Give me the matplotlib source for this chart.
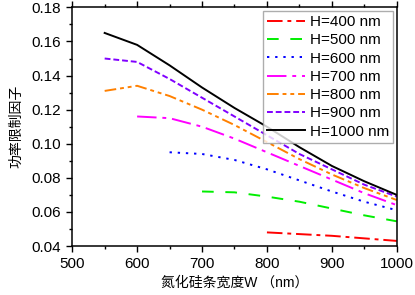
import numpy as np
import matplotlib
matplotlib.use('Agg')
import matplotlib.pyplot as plt
from matplotlib.ticker import MultipleLocator

# Width of the SiN strip (nm) and power confinement factor for each height H
w_400 = [800, 850, 900, 950, 1000]
pcf_400 = [0.048, 0.047, 0.046, 0.0445, 0.043]

w_500 = [700, 750, 800, 850, 900, 950, 1000]
pcf_500 = [0.072, 0.0715, 0.069, 0.066, 0.062, 0.058, 0.0545]

w_600 = [650, 700, 750, 800, 850, 900, 950, 1000]
pcf_600 = [0.095, 0.094, 0.0905, 0.085, 0.0785, 0.072, 0.066, 0.061]

w_700 = [600, 650, 700, 750, 800, 850, 900, 950, 1000]
pcf_700 = [0.116, 0.115, 0.110, 0.103, 0.095, 0.087, 0.079, 0.071, 0.064]

w_800 = [550, 600, 650, 700, 750, 800, 850, 900, 950, 1000]
pcf_800 = [0.131, 0.134, 0.128, 0.120, 0.111, 0.101, 0.091, 0.082, 0.074, 0.067]

w_900 = [550, 600, 650, 700, 750, 800, 850, 900, 950, 1000]
pcf_900 = [0.150, 0.148, 0.138, 0.127, 0.116, 0.105, 0.094, 0.085, 0.076, 0.069]

w_1000 = [550, 600, 650, 700, 750, 800, 850, 900, 950, 1000]
pcf_1000 = [0.165, 0.158, 0.146, 0.133, 0.121, 0.110, 0.098, 0.087, 0.078, 0.070]

labels = ['H=400 nm', 'H=500 nm', 'H=600 nm', 'H=700 nm',
          'H=800 nm', 'H=900 nm', 'H=1000 nm']

plt.rcParams['font.family'] = ['Liberation Sans', 'Noto Sans CJK SC', 'DejaVu Sans']

fig = plt.figure(figsize=(4.15, 2.95), dpi=100)
ax = fig.add_axes([0.174, 0.166, 0.782, 0.809])

series = [
    (w_400, pcf_400, '#ff0000', (0, (8, 2.5, 2, 2.5))),
    (w_500, pcf_500, '#00ee00', (0, (6, 6))),
    (w_600, pcf_600, '#0000ff', (0, (1.2, 3))),
    (w_700, pcf_700, '#ff00ff', (0, (10, 3, 2, 3))),
    (w_800, pcf_800, '#ff8000', (0, (6, 2, 2, 2, 2, 2))),
    (w_900, pcf_900, '#8000ff', (0, (3, 1.5))),
    (w_1000, pcf_1000, '#000000', '-'),
]

for (x, y, c, ls), lab in zip(series, labels):
    ax.plot(x, y, color=c, linestyle=ls, lw=1.4, label=lab)

ax.set_xlim(500, 1000)
ax.set_ylim(0.04, 0.18)
ax.xaxis.set_major_locator(MultipleLocator(100))
ax.xaxis.set_minor_locator(MultipleLocator(50))
ax.yaxis.set_major_locator(MultipleLocator(0.02))
ax.yaxis.set_minor_locator(MultipleLocator(0.01))
ax.yaxis.set_major_formatter(matplotlib.ticker.FormatStrFormatter('%.2f'))

ax.tick_params(which='both', direction='out', top=True, right=False,
               labelsize=11, width=1)
ax.tick_params(which='major', length=4.5)
ax.tick_params(which='minor', length=2.5)
for s in ax.spines.values():
    s.set_linewidth(1.1)

ax.set_xlabel('氮化硅条宽度W （nm）', fontsize=10, labelpad=3)
ax.set_ylabel('功率限制因子', fontsize=10, labelpad=6)

leg = ax.legend(loc='upper right', fontsize=11, frameon=True, fancybox=False,
                edgecolor='#999999', handlelength=2.5, handletextpad=0.3,
                labelspacing=0.28, borderpad=0.25, borderaxespad=0.25)
leg.get_frame().set_linewidth(1)

fig.savefig('out.png', dpi=100)
